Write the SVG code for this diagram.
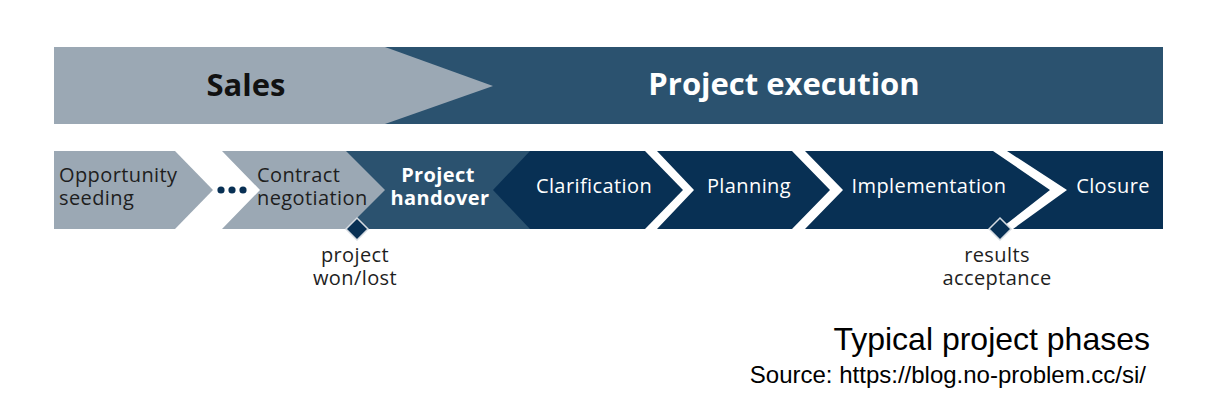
<svg xmlns="http://www.w3.org/2000/svg" width="1210" height="412" viewBox="0 0 1210 412">
<style>
.gray{fill:#9ba8b4}
.mid{fill:#2b526f}
.navy{fill:#083054}
.t{font-family:"Open Sans","Liberation Sans",sans-serif;font-size:20px;letter-spacing:0.4px}
.dk{fill:#1e1e1e}
.wh{fill:#ffffff}
.b{font-weight:bold}
.big{font-family:"Open Sans","Liberation Sans",sans-serif;font-size:31px;font-weight:bold}
.dia{fill:#083054;stroke:#d5dbe1;stroke-width:1.5}
.cap{font-family:"Liberation Sans",Arial,sans-serif;fill:#000}
</style>
<rect width="1210" height="412" fill="#ffffff"/>
<g id="project-execution">
<rect x="385" y="47" width="778" height="77" class="mid"/>
<text x="784" y="95" text-anchor="middle" class="big wh">Project execution</text>
</g>
<g id="sales">
<polygon points="54,47 385,47 493,86 385,124 54,124" class="gray"/>
<text x="246" y="96" text-anchor="middle" class="big" fill="#111">Sales</text>
</g>
<g id="opportunity-seeding">
<polygon points="54,151 175,151 213,190 175,229 54,229" class="gray"/>
<text class="t dk"><tspan x="59" y="182">Opportunity</tspan><tspan x="59" y="205">seeding</tspan></text>
</g>
<g id="ellipsis">
<circle cx="221" cy="190" r="3.6" class="navy"/>
<circle cx="232" cy="190" r="3.6" class="navy"/>
<circle cx="243" cy="190" r="3.6" class="navy"/>
</g>
<g id="project-handover">
<polygon points="340,151 530,151 530,229 340,229" class="mid"/>
<text class="t wh b" text-anchor="middle"><tspan x="438" y="182">Project</tspan><tspan x="440" y="205">handover</tspan></text>
</g>
<g id="contract-negotiation">
<polygon points="222,151 346,151 385,190 346,229 222,229 260,190" class="gray"/>
<text class="t dk"><tspan x="257" y="182">Contract</tspan><tspan x="257" y="205">negotiation</tspan></text>
</g>
<g id="clarification">
<polygon points="530,151 645,151 683,190 645,229 530,229 493,190" class="navy"/>
<text x="594" y="193" text-anchor="middle" class="t wh">Clarification</text>
</g>
<g id="planning">
<polygon points="657,151 792,151 830,190 792,229 657,229 694,190" class="navy"/>
<text x="749" y="193" text-anchor="middle" class="t wh">Planning</text>
</g>
<g id="implementation">
<polygon points="805,151 993,151 1050,190 1000,229 805,229 843,190" class="navy"/>
<text x="929" y="193" text-anchor="middle" class="t wh">Implementation</text>
</g>
<g id="closure">
<polygon points="1007,151 1163,151 1163,229 1013,229 1067,190" class="navy"/>
<text x="1113" y="193" text-anchor="middle" class="t wh">Closure</text>
</g>
<g id="milestone-won-lost">
<polygon points="357,218 368,229 357,240 346,229" class="dia"/>
<text class="t dk" text-anchor="middle"><tspan x="355" y="262">project</tspan><tspan x="355" y="285">won/lost</tspan></text>
</g>
<g id="milestone-acceptance">
<polygon points="1000,218 1011,229 1000,240 989,229" class="dia"/>
<text class="t dk" text-anchor="middle"><tspan x="997" y="262">results</tspan><tspan x="997" y="285">acceptance</tspan></text>
</g>
<g id="connectors"></g>
<g id="caption">
<text x="1150" y="350" text-anchor="end" class="cap" font-size="32">Typical project phases</text>
<text x="1146" y="383" text-anchor="end" class="cap" font-size="24">Source: https://blog.no-problem.cc/si/</text>
</g>
</svg>
